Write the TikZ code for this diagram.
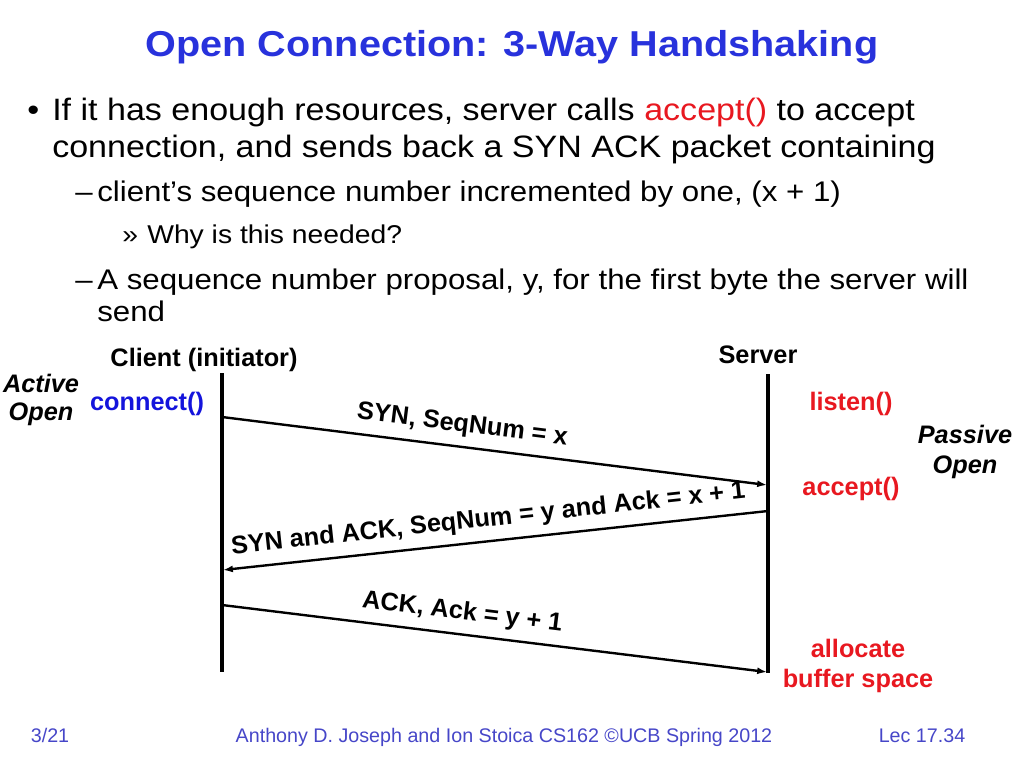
\documentclass[tikz,border=0pt]{standalone}
\usepackage{fontspec}
\setmainfont{Liberation Sans}
\newfontfamily\slidefont[FakeStretch=1.1, Ligatures=TeX]{Liberation Sans}
\usetikzlibrary{arrows.meta}
\definecolor{titleblue}{RGB}{40,50,220}
\definecolor{slidered}{RGB}{232,24,32}
\definecolor{callblue}{RGB}{20,20,220}
\definecolor{footblue}{RGB}{70,70,200}

\begin{document}
\begin{tikzpicture}[x=0.025cm, y=-0.025cm,
        txt/.style={inner sep=0pt, anchor=base west},
        lone/.style={txt, font=\slidefont\fontsize{22}{26}\selectfont},
        ltwo/.style={txt, font=\slidefont\fontsize{20.2}{24}\selectfont},
        lthree/.style={txt, font=\slidefont\fontsize{18.3}{22}\selectfont},
        lbl/.style={inner sep=0pt, anchor=base, font=\fontsize{18}{21}\selectfont\bfseries},
        call/.style={lbl, text=slidered},
        foot/.style={inner sep=0pt, anchor=base, text=footblue, font=\fontsize{14}{17}\selectfont},
        lifeline/.style={line width=2.2pt},
        msg/.style={line width=1.7pt, -{Latex[length=7pt, width=5pt]}},
        msglbl/.style={font=\fontsize{18}{21}\selectfont\bfseries, sloped, above=6pt, inner sep=0pt},
    ]
    \useasboundingbox (0,0) rectangle (1024,768);

    % title and bullets
    \node[inner sep=0pt, anchor=base, text=titleblue, font=\slidefont\bfseries\fontsize{25.6}{30}\selectfont] (title) at (512,57) {Open Connection: 3-Way Handshaking};
    \node[lone] (dot) at (27,121) {\textbullet};
    \node[lone] (resources) at (52,121) {If it has enough resources, server calls \textcolor{slidered}{accept()} to accept};
    \node[lone] (sendsback) at (52,157) {connection, and sends back a SYN ACK packet containing};
    \node[ltwo] (dashone) at (75,201) {–};
    \node[ltwo] (clientseq) at (97,201) {client’s sequence number incremented by one, (x + 1)};
    \node[lthree] (quote) at (122,243) {»};
    \node[lthree] (why) at (147,243) {Why is this needed?};
    \node[ltwo] (dashtwo) at (75,289) {–};
    \node[ltwo] (proposal) at (97,289) {A sequence number proposal, y, for the first byte the server will};
    \node[ltwo] (send) at (97,321) {send};

    % hosts
    \node[lbl] (client) at (204,366) {Client (initiator)};
    \node[lbl] (server) at (758,363) {Server};
    \coordinate (ctop) at (222,373);
    \coordinate (cbot) at (222,672);
    \coordinate (stop) at (768,374);
    \coordinate (sbot) at (768,673);
    \draw[lifeline] (ctop) -- (cbot);
    \draw[lifeline] (stop) -- (sbot);

    \node[lbl, font=\fontsize{18}{21}\selectfont\bfseries\itshape] (active) at (41,392) {Active};
    \node[lbl, font=\fontsize{18}{21}\selectfont\bfseries\itshape] (activeopen) at (41,420) {Open};
    \node[lbl, text=callblue] (connect) at (147,410) {connect()};
    \node[call] (listen) at (851,410) {listen()};
    \node[lbl, font=\fontsize{18}{21}\selectfont\bfseries\itshape] (passive) at (965,443) {Passive};
    \node[lbl, font=\fontsize{18}{21}\selectfont\bfseries\itshape] (passiveopen) at (965,473) {Open};
    \node[call] (accept) at (851,495) {accept()};
    \node[call] (allocate) at (858,657) {allocate};
    \node[call] (buffer) at (858,687) {buffer space};

    % messages
    \coordinate (c1) at (222,417);
    \coordinate (s1) at (767,485);
    \coordinate (s2) at (768,511);
    \coordinate (c2) at (223,570);
    \coordinate (c3) at (222,605);
    \coordinate (s3) at (767,672);
    \draw[msg] (c1) -- node[msglbl, pos=0.436] {SYN, SeqNum = x} (s1);
    \draw[msg] (s2) -- node[msglbl, pos=0.509] {SYN and ACK, SeqNum = y and Ack = x + 1} (c2);
    \draw[msg] (c3) -- node[msglbl, pos=0.436] {ACK, Ack = y + 1} (s3);

    % footer
    \node[foot] (page) at (50,742) {3/21};
    \node[foot] (authors) at (504,742) {Anthony D. Joseph and Ion Stoica CS162 ©UCB Spring 2012};
    \node[foot] (lecture) at (922,742) {Lec 17.34};
\end{tikzpicture}
\end{document}
